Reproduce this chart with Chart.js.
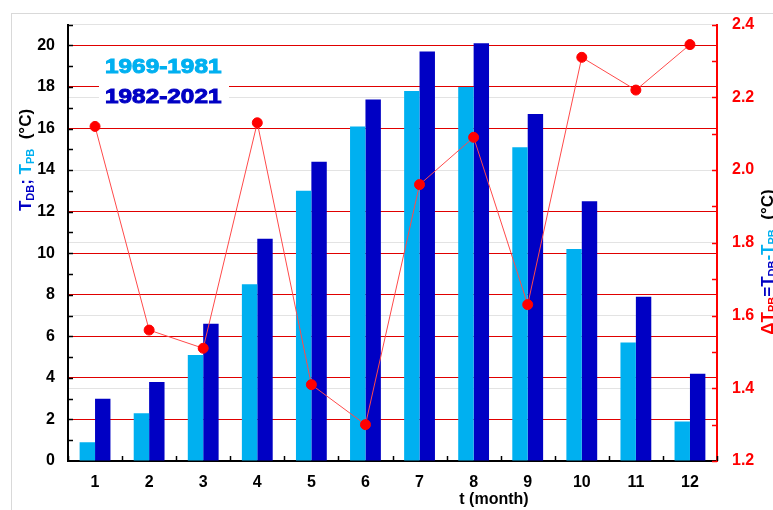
<!DOCTYPE html>
<html>
<head>
<meta charset="utf-8">
<script src="https://cdn.jsdelivr.net/npm/chart.js@4.4.1/dist/chart.umd.min.js"></script>
<style>
  html, body { margin: 0; padding: 0; background: #fff; }
  #wrap { width: 773px; height: 510px; }
</style>
</head>
<body>
<div id="wrap"><canvas id="myChart" width="773" height="510"></canvas></div>
<script>
// data
const months = ['1', '2', '3', '4', '5', '6', '7', '8', '9', '10', '11', '12'];
const tPB = [0.9, 2.3, 5.1, 8.5, 13.0, 16.1, 17.8, 18.0, 15.1, 10.2, 5.7, 1.9];   // 1969-1981
const tDB = [3.0, 3.8, 6.6, 10.7, 14.4, 17.4, 19.7, 20.1, 16.7, 12.5, 7.9, 4.2];  // 1982-2021
const deltaT = [2.12, 1.56, 1.51, 2.13, 1.41, 1.30, 1.96, 2.09, 1.63, 2.31, 2.22, 2.345];
const leftTicks = [0, 2, 4, 6, 8, 10, 12, 14, 16, 18, 20];
const rightTicks = [1.2, 1.4, 1.6, 1.8, 2.0, 2.2, 2.4];

const LIGHT = '#00b0f0';
const DARK = '#0000c4';
const RED = '#ff0000';
const FONT = '"Liberation Sans", Arial, sans-serif';

// draws colored text pieces one after another, returns total width
function pieces(ctx, parts, measureOnly) {
  let x = 0;
  parts.forEach(p => {
    ctx.font = p.font;
    if (!measureOnly) {
      ctx.fillStyle = p.color;
      ctx.fillText(p.text, x, p.dy || 0);
    }
    x += ctx.measureText(p.text).width;
  });
  return x;
}

const extras = {
  id: 'extras',
  afterDraw(chart) {
    const ctx = chart.ctx;
    const x = chart.scales.x, yl = chart.scales.y, yr = chart.scales.y1;
    const a = chart.chartArea;
    ctx.save();

    // outer frame
    ctx.strokeStyle = '#d9d9d9';
    ctx.lineWidth = 1;
    ctx.strokeRect(11.5, 13.5, 800, 600);

    // left axis ticks (inside)
    ctx.strokeStyle = '#000';
    ctx.lineWidth = 1.5;
    for (let v = 1; v <= 21; v++) {
      const py = Math.round(yl.getPixelForValue(v)) + 0.5;
      ctx.beginPath(); ctx.moveTo(a.left, py); ctx.lineTo(a.left + 5, py); ctx.stroke();
    }
    // x ticks between categories
    for (let i = 0; i <= months.length; i++) {
      const px = Math.round(x.getPixelForValue(i - 0.5)) + 0.5;
      ctx.beginPath(); ctx.moveTo(px, a.bottom); ctx.lineTo(px, a.bottom - 5); ctx.stroke();
    }
    // right axis ticks (inside)
    ctx.strokeStyle = RED;
    for (let k = 0; k <= 12; k++) {
      const py = Math.round(yr.getPixelForValue(1.2 + k * 0.1)) + 0.5;
      ctx.beginPath(); ctx.moveTo(a.right, py); ctx.lineTo(a.right - 5, py); ctx.stroke();
    }

    // legend box
    ctx.fillStyle = '#fff';
    ctx.fillRect(99, 50, 130, 62);
    ctx.textBaseline = 'middle';
    ctx.textAlign = 'left';
    ctx.save();
    ctx.translate(105, 67);
    ctx.scale(1.16, 1);
    ctx.font = 'bold 21px ' + FONT;
    ctx.lineWidth = 1;
    ctx.fillStyle = LIGHT;
    ctx.strokeStyle = LIGHT;
    ctx.fillText('1969-1981', 0, 0);
    ctx.strokeText('1969-1981', 0, 0);
    ctx.fillStyle = DARK;
    ctx.strokeStyle = DARK;
    ctx.fillText('1982-2021', 0, 30);
    ctx.strokeText('1982-2021', 0, 30);
    ctx.restore();

    // left axis title
    const big = 'bold 17px ' + FONT, sub = 'bold 11px ' + FONT;
    const leftParts = [
      { text: 'T', font: big, color: DARK },
      { text: 'DB', font: sub, color: DARK, dy: 5 },
      { text: '; ', font: big, color: DARK },
      { text: 'T', font: big, color: LIGHT },
      { text: 'PB', font: sub, color: LIGHT, dy: 5 },
      { text: '  (°C)', font: big, color: '#000' }
    ];
    ctx.save();
    ctx.translate(26, 160);
    ctx.rotate(-Math.PI / 2);
    const wl = pieces(ctx, leftParts, true);
    ctx.translate(-wl / 2, 0);
    pieces(ctx, leftParts, false);
    ctx.restore();

    // right axis title
    const rightParts = [
      { text: 'ΔT', font: big, color: RED },
      { text: 'PB', font: sub, color: RED, dy: 5 },
      { text: '=', font: big, color: DARK },
      { text: 'T', font: big, color: DARK },
      { text: 'DB', font: sub, color: DARK, dy: 5 },
      { text: '-', font: big, color: LIGHT },
      { text: 'T', font: big, color: LIGHT },
      { text: 'PB', font: sub, color: LIGHT, dy: 5 },
      { text: '  (°C)', font: big, color: '#000' }
    ];
    ctx.save();
    ctx.translate(768, 262);
    ctx.rotate(-Math.PI / 2);
    const wr = pieces(ctx, rightParts, true);
    ctx.translate(-wr / 2, 0);
    pieces(ctx, rightParts, false);
    ctx.restore();

    // x axis title
    ctx.font = 'bold 16px ' + FONT;
    ctx.fillStyle = '#000';
    ctx.textAlign = 'center';
    ctx.fillText('t (month)', 494, 500);

    ctx.restore();
  }
};

const ctxChart = document.getElementById('myChart').getContext('2d');

const chart = new Chart(ctxChart, {
  type: 'bar',
  data: {
    labels: months,
    datasets: [
      {
        type: 'line',
        label: 'dT',
        data: deltaT,
        yAxisID: 'y1',
        borderColor: '#ff4a4a',
        borderWidth: 1,
        pointBackgroundColor: RED,
        pointBorderColor: RED,
        pointRadius: 5,
        tension: 0,
        order: 0
      },
      {
        label: '1969-1981',
        data: tPB,
        backgroundColor: LIGHT,
        yAxisID: 'y',
        barPercentage: 1,
        categoryPercentage: 0.57,
        order: 1
      },
      {
        label: '1982-2021',
        data: tDB,
        backgroundColor: DARK,
        yAxisID: 'y',
        barPercentage: 1,
        categoryPercentage: 0.57,
        order: 1
      }
    ]
  },
  options: {
    responsive: false,
    animation: false,
    layout: { padding: { top: 22, left: 0, right: 0, bottom: 0 } },
    plugins: {
      legend: { display: false },
      tooltip: { enabled: false }
    },
    scales: {
      x: {
        grid: { display: false, drawTicks: false },
        border: { color: '#000', width: 2 },
        ticks: { color: '#000', font: { family: FONT, size: 16, weight: 'bold' }, padding: 12 },
        afterFit: s => { s.height = 49; }
      },
      y: {
        position: 'left',
        min: 0,
        max: 21,
        afterBuildTicks: s => { s.ticks = leftTicks.map(v => ({ value: v })); },
        grid: {
          drawTicks: false,
          color: c => (c.tick && c.tick.value === 0 ? 'rgba(0,0,0,0)' : '#e00000'),
          lineWidth: 1
        },
        border: { color: '#000', width: 2 },
        ticks: { color: '#000', font: { family: FONT, size: 16, weight: 'bold' }, padding: 13 },
        afterFit: s => { s.width = 68; }
      },
      y1: {
        position: 'right',
        min: 1.2,
        max: 2.4,
        afterBuildTicks: s => { s.ticks = rightTicks.map(v => ({ value: v })); },
        grid: { drawTicks: false, color: '#e3e3e3', lineWidth: 1 },
        border: { color: RED, width: 2 },
        ticks: {
          color: RED,
          font: { family: FONT, size: 16, weight: 'bold' },
          padding: 15,
          callback: v => Number(v).toFixed(1)
        },
        afterFit: s => { s.width = 56; }
      }
    }
  },
  plugins: [extras]
});
</script>
</body>
</html>
